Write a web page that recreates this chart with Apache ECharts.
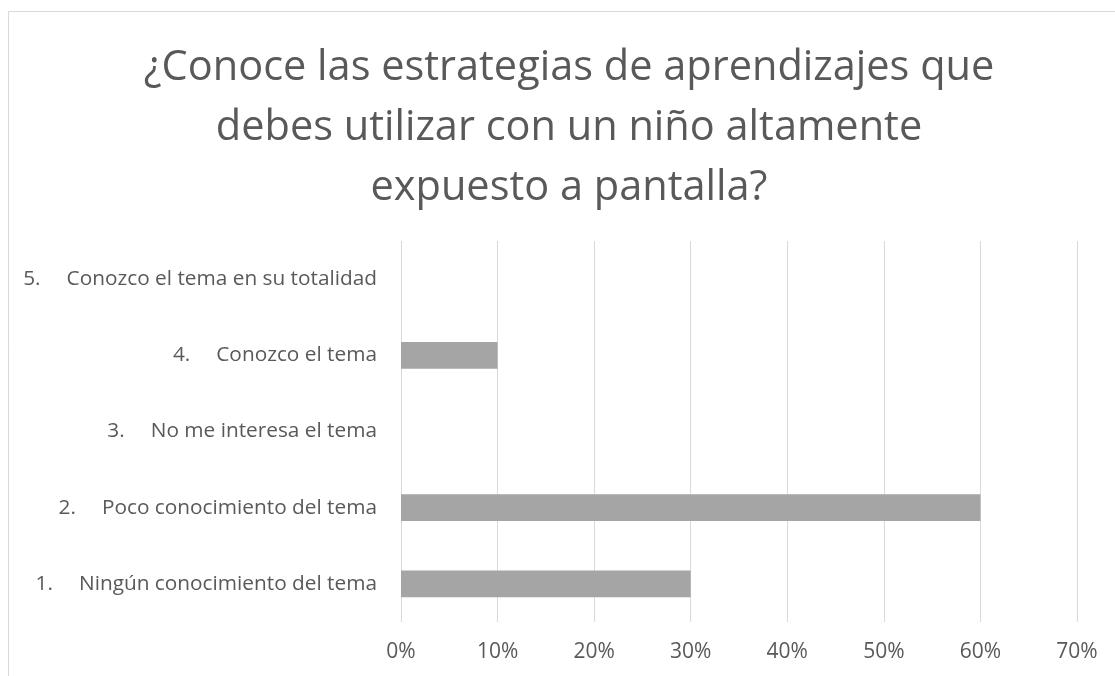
<!DOCTYPE html>
<html>
<head>
<meta charset="utf-8">
<script src="https://cdn.jsdelivr.net/npm/echarts@6/dist/echarts.min.js"></script>
<style>
  html, body { margin: 0; padding: 0; background: #fff; }
  #chart { width: 1115px; height: 676px; }
</style>
</head>
<body>
<div id="chart"></div>
<script>
const titleText = "¿Conoce las estrategias de aprendizajes que\ndebes utilizar con un niño altamente\nexpuesto a pantalla?";
const categories = [
  "1. Ningún conocimiento del tema",
  "2. Poco conocimiento del tema",
  "3. No me interesa el tema",
  "4. Conozco el tema",
  "5. Conozco el tema en su totalidad"
];
const values = [0.30, 0.60, 0, 0.10, 0];

const chart = echarts.init(document.getElementById("chart"));
const font = "'Open Sans', 'Noto Sans', sans-serif";

chart.setOption({
  backgroundColor: "#fff",
  animation: false,
  graphic: [{
    type: "rect",
    shape: { x: 8.5, y: 11.5, width: 1120, height: 700 },
    style: { fill: "none", stroke: "#d9d9d9", lineWidth: 1 }
  }],
  title: {
    text: titleText,
    left: 564,
    top: 33,
    textAlign: "center",
    textStyle: {
      fontFamily: font,
      fontSize: 41.5,
      fontWeight: "normal",
      color: "#595959",
      lineHeight: 60
    }
  },
  grid: { left: 401, right: 38, top: 241, bottom: 54 },
  xAxis: {
    type: "value",
    min: 0,
    max: 0.7,
    interval: 0.1,
    axisLine: { show: false },
    axisTick: { show: false },
    splitLine: { lineStyle: { color: "#d9d9d9", width: 1 } },
    axisLabel: {
      margin: 20,
      fontFamily: font,
      fontSize: 21,
      color: "#595959",
      formatter: v => Math.round(v * 100) + "%"
    }
  },
  yAxis: {
    type: "category",
    data: categories,
    axisLine: { show: false },
    axisTick: { show: false },
    axisLabel: {
      margin: 24,
      formatter: v => {
        const i = v.indexOf(" ");
        return "{n|" + v.slice(0, i) + "}{t|" + v.slice(i + 1) + "}";
      },
      rich: {
        n: { fontFamily: font, fontSize: 20.8, color: "#595959", padding: [0, 26, 0, 0] },
        t: { fontFamily: font, fontSize: 20.8, color: "#595959" }
      }
    }
  },
  series: [{
    type: "bar",
    data: values,
    barWidth: "35%",
    itemStyle: { color: "#a5a5a5" }
  }]
});
</script>
</body>
</html>
